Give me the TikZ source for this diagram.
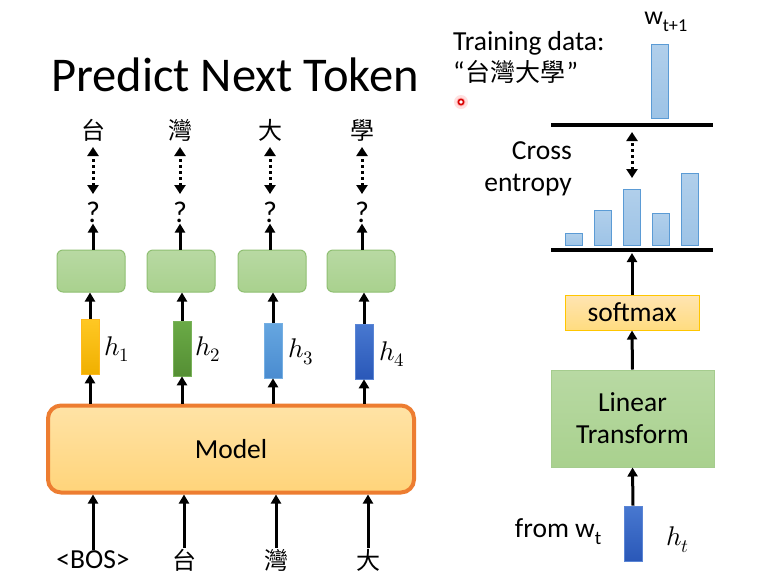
\documentclass[tikz,border=0pt]{standalone}
\usepackage{fontspec}
\usepackage{unicode-math}
\setmainfont{Carlito}
\setmathfont{Latin Modern Math}
\newfontfamily\cjk{Noto Sans CJK TC}
\usetikzlibrary{arrows.meta}
\definecolor{gfill}{HTML}{A9D18E}
\definecolor{gtop}{HTML}{B8D9A3}
\definecolor{gdraw}{HTML}{8FBF72}
\definecolor{ofill}{HTML}{FFD47A}
\definecolor{otop}{HTML}{FFE3A6}
\definecolor{odraw}{HTML}{ED7D31}
\definecolor{barblue}{HTML}{9DC3E6}
\definecolor{barbluedraw}{HTML}{5B9BD5}
\definecolor{dbtop}{HTML}{4878D0}
\definecolor{dbbot}{HTML}{2A58B8}
\definecolor{ytop}{HTML}{FFC824}
\definecolor{ybot}{HTML}{F0B000}
\definecolor{grtop}{HTML}{6AAA46}
\definecolor{grbot}{HTML}{558F34}
\definecolor{btop}{HTML}{66A6E0}
\definecolor{bbot}{HTML}{4A8CD0}
\begin{document}
\begin{tikzpicture}[x=1pt,y=-1pt,
  arr/.style={line width=3pt,-{Triangle[length=9pt,width=10pt]}},
  darr/.style={line width=3pt,dash pattern=on 3pt off 3pt,{Triangle[length=9pt,width=11pt]}-{Triangle[length=9pt,width=11pt]}},
  txt/.style={font=\fontsize{27.5}{32}\selectfont, inner sep=1pt},
  cjkt/.style={font=\cjk\fontsize{24}{28}\selectfont, inner sep=1pt},
  gbox/.style={draw=gdraw, line width=1pt, rounded corners=6pt, top color=gtop, bottom color=gfill, minimum width=68pt, minimum height=42pt},
  hbar/.style={minimum width=18pt, minimum height=55pt, inner sep=0pt, line width=0.6pt},
  hlab/.style={font=\fontsize{27}{30}\selectfont, inner sep=1pt},
  pbar/.style={draw=barbluedraw, line width=0.8pt, top color=barblue!80!white, bottom color=barblue, minimum width=17pt, inner sep=0pt, anchor=south},
  bline/.style={line width=3.5pt},
]
\useasboundingbox (0,0) rectangle (777,579);
\fill[white] (0,0) rectangle (777,579);

% title
\node[font=\fontsize{48.5}{54}\selectfont, inner sep=0pt] (title) at (235,75) {Predict Next Token};

% left column
\foreach \i/\x/\c in {1/93/台,2/180/灣,3/270/大,4/362/學}{
  \node[cjkt] (t\i) at (\x,130) {\c};
  \node[txt, font=\fontsize{30}{34}\selectfont] (q\i) at (\x,212) {?};
  \coordinate (dt\i) at (\x,147);
  \coordinate (db\i) at (\x,194);
}
\node[gbox] (g1) at (91,271) {};
\node[gbox] (g2) at (181,271) {};
\node[gbox] (g3) at (272,271) {};
\node[gbox] (g4) at (361,271) {};

\node[hbar, top color=ytop, bottom color=ybot, draw=ytop!80!orange] (b1) at (90,346.5) {};
\node[hbar, top color=grtop, bottom color=grbot, draw=grtop!90!white] (b2) at (182,348.5) {};
\node[hbar, top color=btop, bottom color=bbot, draw=btop!90!white] (b3) at (273,350.5) {};
\node[hbar, top color=dbtop, bottom color=dbbot, draw=dbtop!90!white] (b4) at (364,351.5) {};

\node[hlab, anchor=west] (hl1) at (103,349) {$h_1$};
\node[hlab, anchor=west] (hl2) at (194,349) {$h_2$};
\node[hlab, anchor=west] (hl3) at (287,352) {$h_3$};
\node[hlab, anchor=west] (hl4) at (378,354) {$h_4$};

\node[draw=odraw, line width=4pt, rounded corners=13pt, top color=otop, bottom color=ofill, minimum width=366pt, minimum height=87pt, font=\fontsize{27.5}{32}\selectfont] (model) at (231,449) {Model};

\node[txt] (in1) at (93,560) {<BOS>};
\node[cjkt] (in2) at (184,560) {台};
\node[cjkt] (in3) at (276,560) {灣};
\node[cjkt] (in4) at (368,560) {大};

\foreach \i in {1,...,4}{
  \draw[darr] (db\i) -- (dt\i);
  \draw[arr] (g\i.north -| q\i) -- (q\i.south);
  \draw[arr] (b\i.north) -- (b\i.north |- g\i.south);
  \draw[arr] (model.north -| b\i) -- (b\i.south);
  \draw[arr] (in\i.north) -- (in\i.north |- model.south);
}

% right side
\node[txt, anchor=west, align=left] (train) at (452,43) {Training data:};
\node[txt, anchor=west] (quote) at (452,72) {“\kern1pt{\cjk\fontsize{25}{28}\selectfont 台灣大學}\kern1pt”};
\fill[red!12] (461,102) circle (7);
\fill[red!30] (461,102) circle (4.5);
\draw[red!85!black, line width=1.6pt, fill=white] (461,102) circle (2.6);

\node[txt, font=\fontsize{26}{30}\selectfont] (wt1) at (666,22) {w\textsubscript{t+1}};
\node[pbar, minimum height=74pt] (tb) at (660,119) {};
\coordinate (l1a) at (551,125);
\coordinate (l1b) at (713,125);
\draw[bline] (l1a) -- (l1b);

\node[txt, anchor=east, align=right] (ce) at (573,169) {Cross\\[0pt]entropy};
\coordinate (d1) at (632,132);
\coordinate (d2) at (632,178);
\draw[darr] (d2) -- (d1);

\node[pbar, minimum height=12pt] (p1) at (573.5,246) {};
\node[pbar, minimum height=35pt] (p2) at (602.5,246) {};
\node[pbar, minimum height=56pt] (p3) at (632,246) {};
\node[pbar, minimum height=32pt] (p4) at (660.5,246) {};
\node[pbar, minimum height=72pt] (p5) at (690,246) {};
\coordinate (l2a) at (551,250);
\coordinate (l2b) at (713,250);
\draw[bline] (l2a) -- (l2b);
\coordinate (l2m) at (632,253);

\node[draw=orange!45!yellow, line width=1pt, top color=yellow!30!orange!30!white, bottom color=yellow!45!orange!50!white, minimum width=134pt, minimum height=35pt, font=\fontsize{27.5}{32}\selectfont] (soft) at (632,312.5) {softmax};
\node[draw=gdraw!80!white, line width=1pt, top color=gtop, bottom color=gfill, minimum width=163pt, minimum height=97pt, font=\fontsize{27.5}{32}\selectfont, align=center] (lin) at (632.5,418.5) {Linear\\[0pt]Transform};
\node[hbar, top color=dbtop, bottom color=dbbot, draw=dbtop!90!white] (ht) at (633,533.5) {};
\node[txt, anchor=east] (from) at (603,532) {from w\textsubscript{t}};
\node[hlab, anchor=west] (htl) at (665,540) {$h_t$};

\draw[arr] (soft.north) -- (l2m);
\draw[arr] (lin.north) -- (soft.south);
\draw[arr] (ht.north) -- (lin.south);
\end{tikzpicture}
\end{document}
